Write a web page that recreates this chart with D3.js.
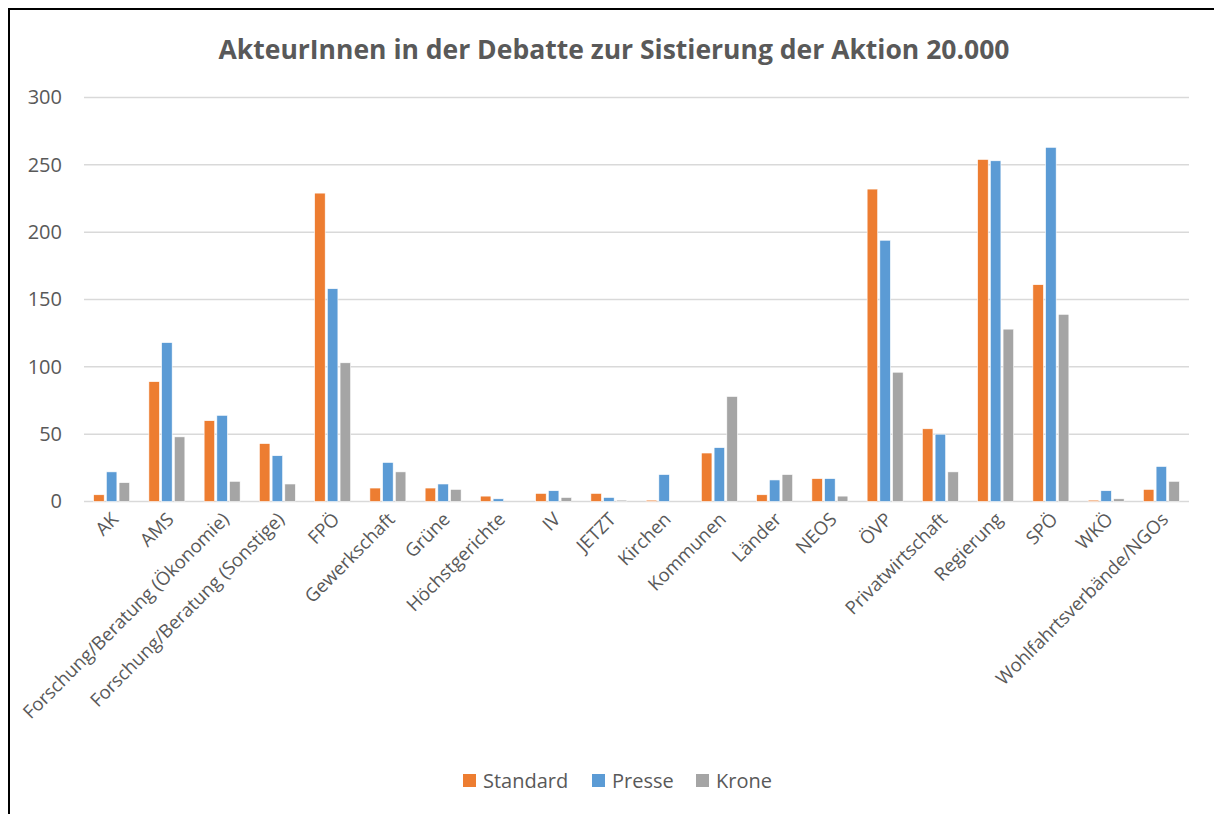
<!DOCTYPE html>
<html>
<head>
<meta charset="utf-8">
<script src="https://cdn.jsdelivr.net/npm/d3@7"></script>
<style>
  body { margin: 0; background: #fff; }
  svg { display: block; font-family: "Open Sans", sans-serif; }
</style>
</head>
<body>
<svg id="chart" width="1214" height="814"></svg>
<script>
const categories = ["AK", "AMS", "Forschung/Beratung (Ökonomie)", "Forschung/Beratung (Sonstige)", "FPÖ",
  "Gewerkschaft", "Grüne", "Höchstgerichte", "IV", "JETZT", "Kirchen", "Kommunen", "Länder", "NEOS",
  "ÖVP", "Privatwirtschaft", "Regierung", "SPÖ", "WKÖ", "Wohlfahrtsverbände/NGOs"]
const seriesNames = ["Standard", "Presse", "Krone"]
const standard = [5, 89, 60, 43, 229, 10, 10, 4, 6, 6, 1, 36, 5, 17, 232, 54, 254, 161, 1, 9]
const presse = [22, 118, 64, 34, 158, 29, 13, 2, 8, 3, 20, 40, 16, 17, 194, 50, 253, 263, 8, 26]
const krone = [14, 48, 15, 13, 103, 22, 9, 0, 3, 1, 0, 78, 20, 4, 96, 22, 128, 139, 2, 15]
const yTicks = [0, 50, 100, 150, 200, 250, 300]
const colors = ["#ED7D31", "#5B9BD5", "#A5A5A5"]

const svg = d3.select("#chart")
const margin = { left: 84, right: 1189, top: 97.5, bottom: 501.5 }
const textColor = "#595959"

// frame (only top and left edges are inside the picture)
svg.append("path")
    .attr("d", "M9,820 L9,9 L1220,9")
    .attr("fill", "none").attr("stroke", "#000").attr("stroke-width", 2)

svg.append("text")
    .attr("x", 614).attr("y", 59)
    .attr("text-anchor", "middle")
    .attr("font-size", 26.5).attr("font-weight", "bold")
    .attr("fill", textColor)
    .text("AkteurInnen in der Debatte zur Sistierung der Aktion 20.000")

const x = d3.scaleBand().domain(categories).range([margin.left, margin.right])
const xSub = d3.scaleBand().domain(seriesNames).range([0, 36]).paddingInner(0.17)
const y = d3.scaleLinear().domain([0, 300]).range([margin.bottom, margin.top])

// gridlines
svg.append("g")
    .selectAll("line").data(yTicks).enter().append("line")
    .attr("x1", margin.left).attr("x2", margin.right)
    .attr("y1", d => y(d)).attr("y2", d => y(d))
    .attr("stroke", "#d9d9d9").attr("stroke-width", 1.5)

// y axis labels
const yAxis = d3.axisLeft(y).tickValues(yTicks).tickSize(0).tickPadding(0)
svg.append("g")
    .attr("transform", `translate(62,0)`)
    .call(yAxis)
    .call(g => g.select(".domain").remove())
    .selectAll("text")
    .attr("font-size", 20).attr("fill", textColor)
    .attr("font-family", "Open Sans, sans-serif")

const data = [standard, presse, krone]
const groups = svg.append("g").selectAll("g").data(categories).enter().append("g")
    .attr("transform", d => `translate(${x(d) + x.bandwidth() / 2 - 18},0)`)

groups.selectAll("rect")
    .data((d, i) => seriesNames.map((s, k) => ({ s, v: data[k][i], c: colors[k] })))
    .enter().append("rect")
    .attr("x", d => xSub(d.s))
    .attr("width", xSub.bandwidth())
    .attr("y", d => y(d.v))
    .attr("height", d => y(0) - y(d.v))
    .attr("fill", d => d.c)
    .attr("stroke", "#fff").attr("stroke-width", 0.6)

// x axis labels, rotated
const xAxis = d3.axisBottom(x).tickSize(0).tickPadding(0)
svg.append("g")
    .attr("transform", `translate(0,${margin.bottom})`)
    .call(xAxis)
    .call(g => g.select(".domain").remove())
    .selectAll("text")
    .attr("font-size", 18.5).attr("fill", textColor)
    .attr("font-family", "Open Sans, sans-serif")
    .attr("text-anchor", "end")
    .attr("dy", "0")
    .attr("transform", "translate(8,19) rotate(-45)")

// legend
const legendX = [463, 592, 696]
const legend = svg.append("g").selectAll("g").data(seriesNames).enter().append("g")
    .attr("transform", (d, i) => `translate(${legendX[i]},774)`)
legend.append("rect").attr("width", 13).attr("height", 13)
    .attr("fill", (d, i) => colors[i])
legend.append("text").attr("x", 20).attr("y", 14)
    .attr("font-size", 20).attr("fill", textColor)
    .text(d => d)
</script>
</body>
</html>
